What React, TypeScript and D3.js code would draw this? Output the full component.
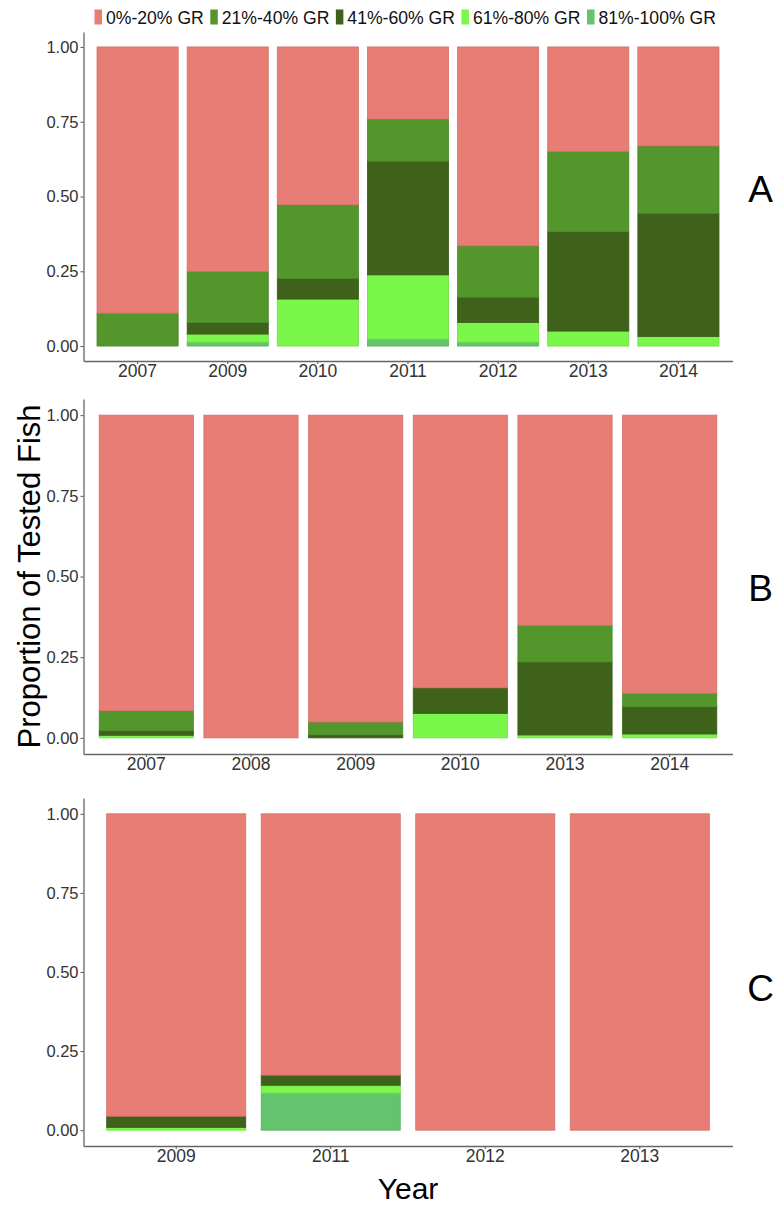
import React, { useEffect, useRef } from 'react'
import * as d3 from 'd3'

// growth-rate classes, bottom of the stack first
const classes = ['81%-100% GR', '61%-80% GR', '41%-60% GR', '21%-40% GR', '0%-20% GR']
const legendOrder = ['0%-20% GR', '21%-40% GR', '41%-60% GR', '61%-80% GR', '81%-100% GR']
const colors: Record<string, string> = {
  '0%-20% GR': '#E77D74',
  '21%-40% GR': '#52962C',
  '41%-60% GR': '#3F621B',
  '61%-80% GR': '#7BF64B',
  '81%-100% GR': '#64C46E',
}
const yTicks = [0, 0.25, 0.5, 0.75, 1]

// panel A
const yearsA = ['2007', '2009', '2010', '2011', '2012', '2013', '2014']
const a81 = [0, 0.013, 0, 0.023, 0.013, 0, 0]
const a61 = [0, 0.027, 0.157, 0.215, 0.066, 0.05, 0.032]
const a41 = [0, 0.038, 0.069, 0.38, 0.084, 0.332, 0.411]
const a21 = [0.11, 0.171, 0.246, 0.141, 0.172, 0.268, 0.226]
const a0 = [0.89, 0.751, 0.528, 0.241, 0.665, 0.35, 0.331]

// panel B
const yearsB = ['2007', '2008', '2009', '2010', '2013', '2014']
const b81 = [0, 0, 0, 0, 0, 0]
const b61 = [0.008, 0, 0, 0.076, 0.009, 0.012]
const b41 = [0.014, 0, 0.009, 0.079, 0.226, 0.084]
const b21 = [0.062, 0, 0.04, 0, 0.113, 0.042]
const b0 = [0.916, 1, 0.951, 0.845, 0.652, 0.862]

// panel C
const yearsC = ['2009', '2011', '2012', '2013']
const c81 = [0, 0.117, 0, 0]
const c61 = [0.009, 0.025, 0, 0]
const c41 = [0.035, 0.032, 0, 0]
const c21 = [0, 0, 0, 0]
const c0 = [0.956, 0.826, 1, 1]

const panels = [
  { label: 'A', years: yearsA, series: [a81, a61, a41, a21, a0], top: 32, bottom: 361, letterY: 201.5 },
  { label: 'B', years: yearsB, series: [b81, b61, b41, b21, b0], top: 399, bottom: 754, letterY: 600.5 },
  { label: 'C', years: yearsC, series: [c81, c61, c41, c21, c0], top: 798, bottom: 1146, letterY: 1001 },
]

const W = 780
const H = 1208
const left = 83.5
const right = 732.5
const font = '"Liberation Sans", Arial, sans-serif'

export default function App() {
  const ref = useRef<SVGSVGElement | null>(null)

  useEffect(() => {
    const svg = d3.select(ref.current)
    svg.selectAll('*').remove()

    // legend
    const lg = svg.append('g').attr('font-family', font).attr('font-size', 17.6)
    let lx = 94.5
    legendOrder.forEach(k => {
      lg.append('rect').attr('x', lx).attr('y', 9.5).attr('width', 7.5).attr('height', 15)
        .attr('fill', colors[k])
      const t = lg.append('text').attr('x', lx + 11.5).attr('y', 23.5).attr('fill', '#111').text(k)
      const tw = (t.node() as SVGTextElement).getComputedTextLength()
      lx += 11.5 + tw + 6.5
    })

    panels.forEach(p => {
      const x = d3.scaleBand<string>().domain(p.years).range([left, right])
        .paddingInner(0.1).paddingOuter(0.15)
      const y = d3.scaleLinear().domain([-0.05, 1.05]).range([p.bottom, p.top])

      const rows = p.years.map((yr, i) => {
        const r: any = { year: yr }
        classes.forEach((c, j) => { r[c] = p.series[j][i] })
        return r
      })
      const stacked = d3.stack<any>().keys(classes)(rows)

      const g = svg.append('g')
      g.selectAll('g.layer').data(stacked).enter().append('g')
        .attr('fill', d => colors[d.key])
        .attr('stroke', d => d3.color(colors[d.key])!.darker(0.3).formatHex())
        .attr('stroke-width', 0.8)
        .selectAll('rect')
        .data(d => d.filter(s => s[1] - s[0] > 0))
        .enter().append('rect')
        .attr('x', d => x(d.data.year) as number)
        .attr('width', x.bandwidth())
        .attr('y', d => y(d[1]))
        .attr('height', d => y(d[0]) - y(d[1]))

      const ya = g.append('g').attr('transform', `translate(${left},0)`)
        .call(d3.axisLeft(y).tickValues(yTicks).tickFormat(d3.format('.2f')).tickSize(3).tickPadding(2).tickSizeOuter(0))
      ya.selectAll('text').attr('font-size', 16.5).attr('font-family', font).attr('fill', '#333')
      ya.selectAll('line').attr('stroke', '#555')
      ya.select('.domain').attr('stroke', '#666').attr('stroke-width', 1.3)

      const xa = g.append('g').attr('transform', `translate(0,${p.bottom})`)
        .call(d3.axisBottom(x).tickSize(3).tickPadding(1).tickSizeOuter(0))
      xa.selectAll('text').attr('font-size', 17.5).attr('font-family', font).attr('fill', '#333')
      xa.selectAll('line').attr('stroke', '#555')
      xa.select('.domain').attr('stroke', '#666').attr('stroke-width', 1.3)

      svg.append('text').attr('x', 760.5).attr('y', p.letterY).attr('text-anchor', 'middle')
        .attr('font-family', font).attr('font-size', 37).attr('fill', '#000').text(p.label)
    })

    svg.append('text')
      .attr('transform', `translate(39.5,576.5) rotate(-90)`)
      .attr('text-anchor', 'middle').attr('font-family', font).attr('font-size', 31)
      .attr('fill', '#000').text('Proportion of Tested Fish')

    svg.append('text').attr('x', 408).attr('y', 1198.5).attr('text-anchor', 'middle')
      .attr('font-family', font).attr('font-size', 30).attr('fill', '#000').text('Year')
  }, [])

  return (
    <svg ref={ref} width={W} height={H} viewBox={`0 0 ${W} ${H}`}
      style={{ position: 'absolute', left: 0, top: 0, background: '#fff', display: 'block' }} />
  )
}
